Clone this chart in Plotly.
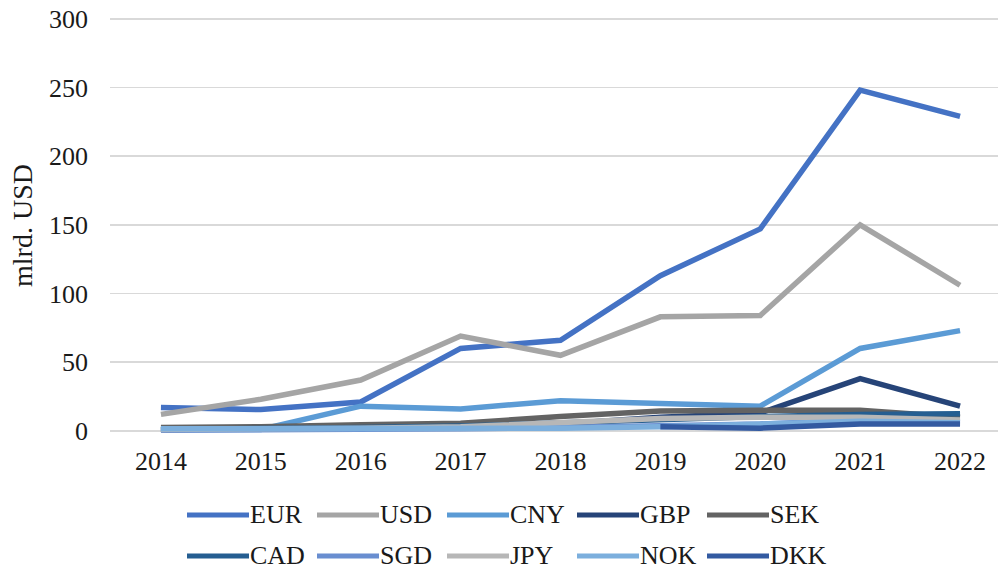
import plotly.graph_objects as go

years = [2014, 2015, 2016, 2017, 2018, 2019, 2020, 2021, 2022]

EUR = [17, 15.5, 21, 60, 66, 113, 147, 248, 229]
USD = [12, 23, 37, 69, 55, 83, 84, 150, 106]
CNY = [1, 1, 18, 16, 22, 20, 18, 60, 73]
GBP = [1, 1, 2, 3, 5, 10, 13, 38, 18]
SEK = [2.5, 3, 4.5, 5.5, 10.5, 14.5, 15, 15, 10]
CAD = [1, 1.5, 2.5, 3.5, 6, 9, 10.5, 12, 12.5]
SGD = [0.5, 0.5, 1, 1.5, 2.5, 4, 5, 8, 6.5]
JPY = [1, 1, 2, 3, 6.5, 9, 10, 10, 8]
NOK = [1.5, 1.5, 1.5, 1.5, 2, 3, 5, 7, 6]
DKK = [None, None, None, None, None, 3, 2, 5, 5]

series_names = ["EUR", "USD", "CNY", "GBP", "SEK", "CAD", "SGD", "JPY", "NOK", "DKK"]
series_values = [EUR, USD, CNY, GBP, SEK, CAD, SGD, JPY, NOK, DKK]
colors = ["#4472C4", "#A5A5A5", "#5B9BD5", "#264478", "#636363",
          "#255E91", "#698ED0", "#B7B7B7", "#7CAFDD", "#335AA1"]

y_ticks = [0, 50, 100, 150, 200, 250, 300]

FONT = "Liberation Serif, Times New Roman, serif"
TXT = "#1a1a1a"
W, H = 998, 572
PX_PER_UNIT = 412 / 300.0
Y_LO, Y_HI = -3, 302
ML, MR = 110, 0
MT = 19 - (Y_HI - 300) * PX_PER_UNIT
MB = H - (431 - Y_LO * PX_PER_UNIT)

fig = go.Figure()
for name, vals, col in zip(series_names, series_values, colors):
    fig.add_trace(go.Scatter(
        x=years, y=vals, name=name, mode="lines",
        line=dict(color=col, width=5.5), showlegend=False,
        connectgaps=False,
    ))

# custom legend (two rows of five)
pw = W - ML - MR
ph = H - MT - MB
shapes = []
annotations = []
for i, (name, col) in enumerate(zip(series_names, colors)):
    row, c = divmod(i, 5)
    x0 = 187 + c * 130
    x1 = x0 + 62
    yp = 515 + row * 41
    fx0 = (x0 - ML) / pw
    fx1 = (x1 - ML) / pw
    fy = (H - MB - yp) / ph
    shapes.append(dict(type="line", xref="paper", yref="paper",
                       x0=fx0, x1=fx1, y0=fy, y1=fy,
                       line=dict(color=col, width=5)))
    annotations.append(dict(xref="paper", yref="paper", x=fx1, y=fy,
                            text=name, showarrow=False, xanchor="left",
                            yanchor="middle", xshift=0, borderpad=0,
                            font=dict(family=FONT, size=26, color=TXT)))

fig.update_layout(
    template="none",
    width=W, height=H,
    margin=dict(l=ML, r=MR, t=MT, b=MB, pad=0),
    paper_bgcolor="white", plot_bgcolor="white",
    font=dict(family=FONT, size=26, color=TXT),
    shapes=shapes, annotations=annotations,
    showlegend=False,
    xaxis=dict(
        automargin=False,
        range=[2013.49, 2022.38], tickvals=years, ticktext=[str(y) for y in years],
        showgrid=False, zeroline=False, showline=False, ticks="",
        ticklabeloverflow="allow",
        ticklabelstandoff=8, tickfont=dict(family=FONT, size=26, color=TXT),
    ),
    yaxis=dict(
        automargin=False,
        range=[Y_LO, Y_HI], tickvals=y_ticks, showgrid=True, gridcolor="#D9D9D9",
        gridwidth=1.5, zeroline=False, showline=False, ticks="",
        ticklabeloverflow="allow",
        ticklabelstandoff=21, tickfont=dict(family=FONT, size=26, color=TXT),
        title=dict(text="mlrd. USD", standoff=8,
                   font=dict(family=FONT, size=28, color=TXT)),
    ),
)

fig.write_html("out.html",
               config={"displayModeBar": False, "staticPlot": True},
               post_script="document.body.style.margin='0';document.body.style.overflow='hidden';")
